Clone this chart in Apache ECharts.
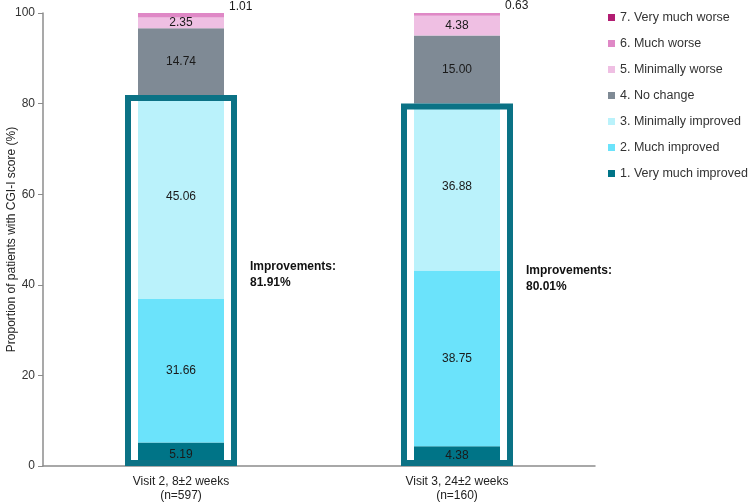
<!DOCTYPE html>
<html>
<head>
<meta charset="utf-8">
<script src="https://cdn.jsdelivr.net/npm/echarts@6/dist/echarts.min.js"></script>
<style>html,body{margin:0;padding:0;background:#fff;}#c{width:750px;height:503px;}</style>
</head>
<body>
<div id="c"></div>
<script>
const categories = ['Visit 2, 8±2 weeks\n(n=597)', 'Visit 3, 24±2 weeks\n(n=160)'];
const seriesNames = ['1. Very much improved', '2. Much improved', '3. Minimally improved', '4. No change', '5. Minimally worse', '6. Much worse', '7. Very much worse'];
const veryMuchImproved = [5.19, 4.38];
const muchImproved = [31.66, 38.75];
const minimallyImproved = [45.06, 36.88];
const noChange = [14.74, 15.00];
const minimallyWorse = [2.35, 4.38];
const muchWorse = [1.01, 0.63];
const veryMuchWorse = [0, 0];
const improvements = [81.91, 80.01];
const yTicks = [0, 20, 40, 60, 80, 100];

const colors = ['#007487', '#6be3fb', '#baf2fb', '#7f8a95', '#efbfe3', '#df88c6', '#b21d72'];
const values = [veryMuchImproved, muchImproved, minimallyImproved, noChange, minimallyWorse, muchWorse, veryMuchWorse];
const font = 'Liberation Sans, Arial, sans-serif';

const series = values.map((v, i) => {
  const outside = i === 5;
  return {
    name: seriesNames[i],
    type: 'bar',
    stack: 'total',
    xAxisIndex: 0,
    barWidth: 86,
    itemStyle: { color: colors[i] },
    data: v,
    z: 2,
    label: {
      show: i < 6,
      position: outside ? 'right' : 'inside',
      distance: 5,
      offset: outside ? [0, -9] : [0, 0],
      color: '#1a1a1a',
      fontFamily: font,
      fontSize: 12,
      formatter: p => p.value.toFixed(2)
    }
  };
});

series.push({
  name: 'frame',
  type: 'bar',
  xAxisIndex: 1,
  barWidth: 112,
  z: 5,
  silent: true,
  itemStyle: { color: 'rgba(0,0,0,0)', borderColor: '#0b7285', borderWidth: 6 },
  data: improvements,
  label: {
    show: true,
    position: 'right',
    distance: 13,
    offset: [0, -6],
    align: 'left',
    color: '#111',
    fontFamily: font,
    fontSize: 12,
    fontWeight: 'bold',
    lineHeight: 16,
    formatter: p => 'Improvements:\n' + p.value.toFixed(2) + '%'
  }
});

const chart = echarts.init(document.getElementById('c'), null, { renderer: 'canvas' });
chart.setOption({
  backgroundColor: '#fff',
  animation: false,
  grid: { left: 43, right: 155, top: 13, bottom: 37, outerBoundsMode: 'none', containLabel: false },
  legend: {
    orient: 'vertical',
    left: 603,
    top: 6,
    itemWidth: 7,
    itemHeight: 7,
    itemGap: 13,
    icon: 'rect',
    data: seriesNames.slice().reverse(),
    textStyle: { fontFamily: font, fontSize: 12.5, color: '#333' }
  },
  xAxis: [
    {
      type: 'category',
      data: categories,
      axisLine: { lineStyle: { color: '#8c8c8c', width: 1.5 } },
      axisTick: { show: false },
      axisLabel: { fontFamily: font, fontSize: 12, color: '#222', lineHeight: 14, margin: 9 }
    },
    {
      type: 'category',
      data: categories,
      show: false
    }
  ],
  yAxis: {
    type: 'value',
    min: 0,
    max: 100,
    interval: 20,
    name: 'Proportion of patients with CGI-I score (%)',
    nameLocation: 'middle',
    nameGap: 25,
    nameMoveOverlap: false,
    nameTextStyle: { fontFamily: font, fontSize: 12, color: '#222' },
    axisLine: { show: true, lineStyle: { color: '#8c8c8c', width: 1.5 } },
    axisTick: { show: true, length: 5, lineStyle: { color: '#8c8c8c' } },
    splitLine: { show: false },
    axisLabel: { fontFamily: font, fontSize: 12, color: '#333', margin: 8,
      formatter: v => yTicks.includes(v) ? String(v) : '' }
  },
  series: series
});
</script>
</body>
</html>
